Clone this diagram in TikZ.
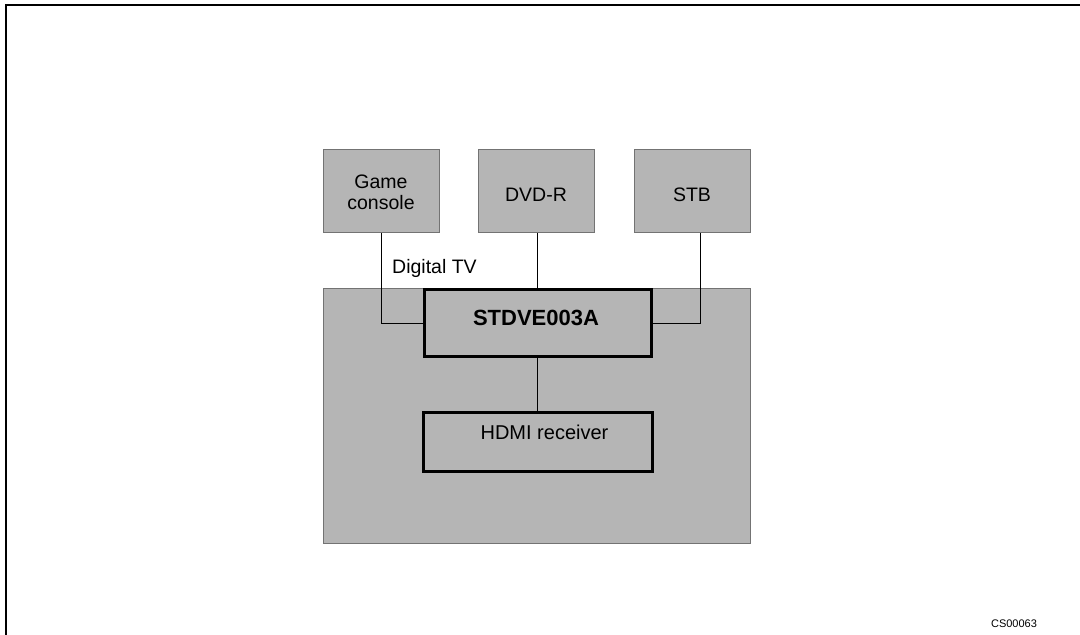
\documentclass[tikz,border=0pt]{standalone}
\usepackage{fontspec}
\setmainfont{Liberation Sans}
\begin{document}
\begin{tikzpicture}[x=1pt,y=-1pt,
  greybox/.style={draw=black!55,line width=0.8pt,fill=black!29,inner sep=0pt,anchor=north west},
  chip/.style={draw=black,line width=3pt,fill=black!29,inner sep=0pt,anchor=north west},
  wire/.style={draw=black,line width=1pt},
  lbl/.style={font=\fontsize{19.5}{22}\selectfont,align=center,inner sep=0pt}]
\useasboundingbox (0,0) rectangle (1080,635);
% frame
\coordinate (fr1) at (1085,5);
\coordinate (fr2) at (6,5);
\coordinate (fr3) at (6,640);
\draw[line width=2.2pt] (fr1) -- (fr2) -- (fr3);
% big grey box
\node[greybox,minimum width=427pt,minimum height=255pt] (tv) at (323,288) {};
% source boxes
\node[greybox,minimum width=116pt,minimum height=83pt] (game) at (323,149) {};
\node[greybox,minimum width=116pt,minimum height=83pt] (dvd) at (478,149) {};
\node[greybox,minimum width=116pt,minimum height=83pt] (stb) at (634,149) {};
\node[lbl] (gamet) at (381,192) {Game\\[-1pt]console};
\node[lbl] (dvdt) at (536,195) {DVD-R};
\node[lbl] (stbt) at (692,195) {STB};
% chip and receiver
\node[chip,minimum width=227pt,minimum height=67pt] (chipbox) at (423,288) {};
\node[lbl,font=\fontsize{22}{24}\selectfont\bfseries] (chipt) at (536,318) {STDVE003A};
\node[chip,minimum width=229pt,minimum height=59pt] (hdmi) at (422,411) {};
\node[lbl,font=\fontsize{20}{22}\selectfont] (hdmit) at (544.5,432) {HDMI receiver};
% labels
\node[lbl,anchor=west] (tvt) at (392,268) {Digital TV};
\node[inner sep=0pt,font=\fontsize{11}{12}\selectfont] (code) at (1014,624) {CS00063};
% connectors
\draw[wire] (game.south -| 381,0) |- (chipbox.west);
\draw[wire] (dvd.south -| 537,0) -- (chipbox.north -| 537,0);
\draw[wire] (stb.south -| 700,0) |- (chipbox.east);
\draw[wire] (chipbox.south -| 537,0) -- (hdmi.north -| 537,0);
\end{tikzpicture}
\end{document}
